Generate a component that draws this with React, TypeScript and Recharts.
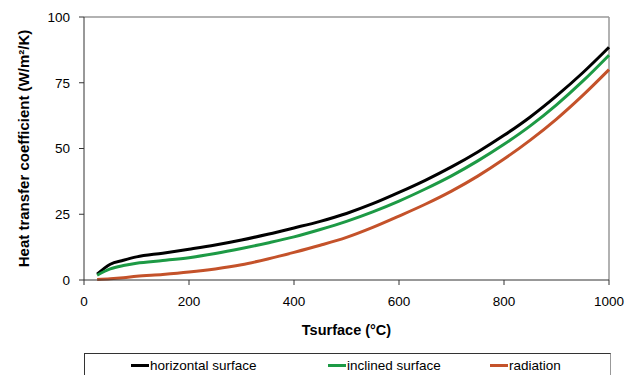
import { LineChart, Line, XAxis, YAxis, ReferenceLine } from 'recharts';

// surface temperature (°C)
const temps = [25, 50, 75, 100, 150, 200, 250, 300, 350, 400, 450, 500, 550, 600, 650, 700, 750, 800, 850, 900, 950, 1000];

// heat transfer coefficients (W/m²/K)
const horizontal = [2.2, 6.0, 7.5, 8.8, 10.2, 11.7, 13.3, 15.2, 17.4, 19.8, 22.3, 25.3, 29.0, 33.3, 37.9, 43.0, 48.7, 55.0, 62.0, 70.0, 78.8, 88.5];
const inclined = [1.8, 4.2, 5.5, 6.4, 7.4, 8.5, 10.1, 12.0, 14.1, 16.4, 19.2, 22.3, 25.9, 30.0, 34.6, 39.6, 45.3, 51.6, 58.6, 66.6, 75.6, 85.5];
const radiation = [0.2, 0.5, 0.9, 1.4, 2.1, 3.0, 4.2, 5.8, 8.0, 10.5, 13.2, 16.2, 20.0, 24.3, 28.8, 33.8, 39.5, 46.0, 53.2, 61.2, 70.2, 80.0];

const xTicks = [0, 200, 400, 600, 800, 1000];
const yTicks = [0, 25, 50, 75, 100];

const seriesInfo = [
  { key: 'horizontal', name: 'horizontal surface', color: '#000000' },
  { key: 'inclined', name: 'inclined surface', color: '#1d9a45' },
  { key: 'radiation', name: 'radiation', color: '#c4522a' },
];

const data = temps.map((t, i) => ({
  t,
  horizontal: horizontal[i],
  inclined: inclined[i],
  radiation: radiation[i],
}));

const font = '"Liberation Sans", Arial, sans-serif';

export default function App() {
  return (
    <div style={{ position: 'absolute', left: 0, top: 0, width: 630, height: 375, background: '#fff', fontFamily: font, overflow: 'hidden' }}>
      <LineChart width={630} height={375} data={data} margin={{ top: 17, right: 21, left: 0, bottom: 0 }}>
        <ReferenceLine y={100} stroke="#999" strokeWidth={1.5} />
        <ReferenceLine x={1000} stroke="#999" strokeWidth={1.5} />
        <XAxis
          dataKey="t"
          type="number"
          domain={[0, 1000]}
          ticks={xTicks}
          height={95}
          stroke="#333"
          tickSize={5}
          tickMargin={11}
          tick={{ fill: '#000', fontSize: 13.5, fontFamily: font }}
          label={{
            value: 'Tsurface (°C)',
            position: 'insideBottom',
            offset: 40,
            style: { fill: '#000', fontSize: 14.5, fontWeight: 'bold', fontFamily: font },
          }}
        />
        <YAxis
          type="number"
          domain={[0, 100]}
          ticks={yTicks}
          width={84}
          stroke="#333"
          tickSize={5}
          tickMargin={9}
          tick={{ fill: '#000', fontSize: 13.5, fontFamily: font }}
          label={{
            value: 'Heat transfer coefficient (W/m²/K)',
            angle: -90,
            position: 'insideLeft',
            offset: 24,
            style: { textAnchor: 'middle', fill: '#000', fontSize: 15, fontWeight: 'bold', fontFamily: font },
          }}
        />
        {seriesInfo.map((s) => (
          <Line
            key={s.key}
            dataKey={s.key}
            type="monotone"
            stroke={s.color}
            strokeWidth={3}
            dot={false}
            isAnimationActive={false}
          />
        ))}
      </LineChart>

      {/* Legend box */}
      <div
        style={{
          position: 'absolute',
          left: 84,
          top: 353,
          width: 527,
          height: 40,
          border: '1px solid #333',
          borderRightColor: '#999',
          boxSizing: 'border-box',
        }}
      >
        {seriesInfo.map((s, i) => (
          <div
            key={s.key}
            style={{
              position: 'absolute',
              left: [46, 243, 405][i],
              top: 4,
              display: 'flex',
              alignItems: 'center',
              fontSize: 13.5,
              color: '#000',
              whiteSpace: 'nowrap',
            }}
          >
            <span style={{ display: 'inline-block', width: 18, height: 3, background: s.color, marginRight: 1 }} />
            {s.name}
          </div>
        ))}
      </div>
    </div>
  );
}
